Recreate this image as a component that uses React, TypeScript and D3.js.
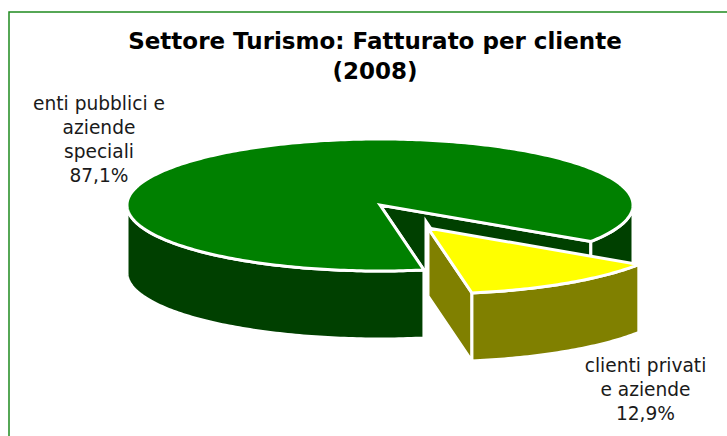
import React from "react";
import * as d3 from "d3";

const categories = ["enti pubblici e aziende speciali", "clienti privati e aziende"];
const values = [87.1, 12.9];
const colors = ["#008000", "#ffff00"];
const sideColors = ["#004000", "#808000"];
const titleLines = ["Settore Turismo: Fatturato per cliente", "(2008)"];
const labelLines = [
  ["enti pubblici e", "aziende", "speciali", "87,1%"],
  ["clienti privati", "e aziende", "12,9%"],
];

const W = 727, H = 436;
const cx = 380, cy = 205, rx = 253, ry = 66, depth = 68;
const explode = [[0, 0], [48, 23]];
const START = (170 * Math.PI) / 180;
const EAST = Math.PI / 2, WEST = (3 * Math.PI) / 2;

const line = d3.line();
const x = d3.scaleLinear().domain([-1, 1]).range([cx - rx, cx + rx]);
const y = d3.scaleLinear().domain([-1, 1]).range([cy - ry, cy + ry]);

const pie = d3.pie<number>().sort(null).startAngle(START).endAngle(START + 2 * Math.PI);
const arcs = pie(values);

function rim(a: number, i: number, dz = 0): [number, number] {
  return [x(Math.sin(a)) + explode[i][0], y(-Math.cos(a)) + explode[i][1] + dz];
}
function apex(i: number, dz = 0): [number, number] {
  return [x(0) + explode[i][0], y(0) + explode[i][1] + dz];
}
function arcPts(a0: number, a1: number, i: number, dz = 0) {
  const n = Math.max(2, Math.ceil(Math.abs(a1 - a0) * 60));
  return d3.range(n + 1).map((k) => rim(a0 + ((a1 - a0) * k) / n, i, dz));
}
const close = (pts: [number, number][]) => (line(pts) as string) + "Z";
const wall = (a0: number, a1: number, i: number) =>
  close([...arcPts(a0, a1, i), ...arcPts(a1, a0, i, depth)]);
const face = (a: number, i: number) =>
  close([apex(i), rim(a, i), rim(a, i, depth), apex(i, depth)]);
const top = (a0: number, a1: number, i: number) => close([apex(i), ...arcPts(a0, a1, i)]);

export default function App() {
  const [m, s] = arcs;
  const common = { stroke: "#fff", strokeWidth: 3, strokeLinejoin: "miter" as const };
  const font = "'DejaVu Sans', Verdana, sans-serif";
  return (
    <svg width={W} height={H} viewBox={`0 0 ${W} ${H}`}
      style={{ position: "fixed", left: 0, top: 0, background: "#fff", display: "block" }}>
      <rect x={9} y={12} width={W} height={H} fill="#fff" stroke="#1f8a1f" strokeWidth={1.5} />

      {/* main slice */}
      <path d={face(m.endAngle - 2 * Math.PI, 0)} fill={sideColors[0]} {...common} />
      <path d={face(m.startAngle, 0)} fill={sideColors[0]} {...common} />
      <path d={wall(EAST, m.endAngle - 2 * Math.PI, 0)} fill={sideColors[0]} {...common} />
      <path d={wall(m.startAngle, WEST, 0)} fill={sideColors[0]} {...common} />
      <path d={top(m.startAngle, m.endAngle, 0)} fill={colors[0]} {...common} />

      {/* exploded slice */}
      <path d={face(s.endAngle, 1)} fill={sideColors[1]} stroke="#fff" strokeWidth={7} />
      <path d={face(s.endAngle, 1)} fill={sideColors[1]} {...common} />
      <path d={wall(s.startAngle - 2 * Math.PI, s.endAngle - 2 * Math.PI, 1)} fill={sideColors[1]} {...common} />
      <path d={top(s.startAngle, s.endAngle, 1)} fill={colors[1]} {...common} />

      <g fontFamily={font} fontWeight="bold" fontSize={23} textAnchor="middle" fill="#000">
        {titleLines.map((t, i) => (
          <text key={t} x={375} y={49 + i * 30}>{t}</text>
        ))}
      </g>
      <g fontFamily={font} fontSize={18.6} textAnchor="middle" fill="#1a1a1a">
        {labelLines[0].map((t, i) => (
          <text key={t} x={99} y={110 + i * 24}>{t}</text>
        ))}
        {labelLines[1].map((t, i) => (
          <text key={t} x={645.5} y={372 + i * 24}>{t}</text>
        ))}
      </g>
      <title>{categories.join(" / ")}</title>
    </svg>
  );
}
